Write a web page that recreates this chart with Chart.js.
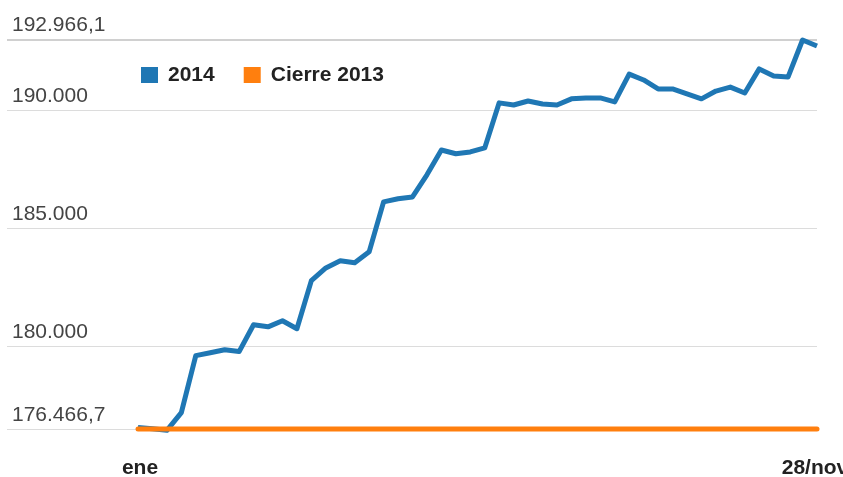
<!DOCTYPE html>
<html>
<head>
<meta charset="utf-8">
<script src="https://cdn.jsdelivr.net/npm/chart.js@4/dist/chart.umd.min.js"></script>
<style>
  html, body { margin: 0; padding: 0; background: #fff; }
  #wrap { width: 843px; height: 477px; }
</style>
</head>
<body>
<div id="wrap"><canvas id="myChart"></canvas></div>
<script>
// weekly closing dates (Fridays, 2014)
const weeks = [
  '03/ene', '10/ene', '17/ene', '24/ene', '31/ene',
  '07/feb', '14/feb', '21/feb', '28/feb',
  '07/mar', '14/mar', '21/mar', '28/mar',
  '04/abr', '11/abr', '18/abr', '25/abr',
  '02/may', '09/may', '16/may', '23/may', '30/may',
  '06/jun', '13/jun', '20/jun', '27/jun',
  '04/jul', '11/jul', '18/jul', '25/jul',
  '01/ago', '08/ago', '15/ago', '22/ago', '29/ago',
  '05/sep', '12/sep', '19/sep', '26/sep',
  '03/oct', '10/oct', '17/oct', '24/oct', '31/oct',
  '07/nov', '14/nov', '21/nov', '28/nov'
];

const serie2014 = [
  176530, 176480, 176410, 177160, 179580, 179700, 179830, 179750,
  180890, 180800, 181060, 180720, 182760, 183300, 183600, 183520,
  183980, 186100, 186230, 186310, 187250, 188300, 188140, 188220,
  188390, 190300, 190210, 190380, 190250, 190210, 190470, 190510,
  190510, 190340, 191520, 191270, 190890, 190890, 190680, 190470,
  190800, 190970, 190720, 191740, 191440, 191400, 192966.1, 192710
];

const cierre2013 = [
  176466.7, 176466.7, 176466.7, 176466.7, 176466.7, 176466.7, 176466.7, 176466.7,
  176466.7, 176466.7, 176466.7, 176466.7, 176466.7, 176466.7, 176466.7, 176466.7,
  176466.7, 176466.7, 176466.7, 176466.7, 176466.7, 176466.7, 176466.7, 176466.7,
  176466.7, 176466.7, 176466.7, 176466.7, 176466.7, 176466.7, 176466.7, 176466.7,
  176466.7, 176466.7, 176466.7, 176466.7, 176466.7, 176466.7, 176466.7, 176466.7,
  176466.7, 176466.7, 176466.7, 176466.7, 176466.7, 176466.7, 176466.7, 176466.7
];

const yTickValues = [176466.7, 180000, 185000, 190000, 192966.1];
const yTickLabels = ['176.466,7', '180.000', '185.000', '190.000', '192.966,1'];
const xTickLabels = ['ene', '28/nov'];

const FONT = '"Liberation Sans", Arial, sans-serif';

// gridlines, axis labels and legend drawn by hand (google-chart look)
const overlay = {
  id: 'overlay',
  beforeDatasetsDraw(chart) {
    const { ctx, chartArea, scales: { y } } = chart;
    ctx.save();
    yTickValues.forEach((v, i) => {
      const isTop = i === yTickValues.length - 1;
      const py = Math.round(y.getPixelForValue(v)) + (isTop ? 0 : 0.5);
      ctx.beginPath();
      ctx.strokeStyle = isTop ? '#d0d0d0' : '#dcdcdc';
      ctx.lineWidth = isTop ? 2 : 1;
      ctx.moveTo(7, py);
      ctx.lineTo(chartArea.right, py);
      ctx.stroke();

      ctx.fillStyle = '#444';
      ctx.font = '21px ' + FONT;
      ctx.textAlign = 'left';
      ctx.textBaseline = 'alphabetic';
      ctx.fillText(yTickLabels[i], 12, py - 9);
    });
    ctx.restore();
  },
  afterDraw(chart) {
    const { ctx, scales: { x } } = chart;
    ctx.save();
    ctx.font = 'bold 21px ' + FONT;
    ctx.fillStyle = '#222';
    ctx.textAlign = 'center';
    ctx.textBaseline = 'alphabetic';
    ctx.fillText(xTickLabels[0], x.getPixelForValue(0) + 2, 474);
    ctx.fillText(xTickLabels[1], x.getPixelForValue(weeks.length - 1) - 2, 474);

    // legend
    let lx = 141;
    chart.data.datasets.slice().sort((a, b) => a.legendIndex - b.legendIndex).forEach(ds => {
      ctx.fillStyle = ds.borderColor;
      ctx.fillRect(lx, 67, 17, 16);
      ctx.fillStyle = '#222';
      ctx.textAlign = 'left';
      ctx.fillText(ds.label, lx + 27, 81);
      lx += 27 + ctx.measureText(ds.label).width + 29;
    });
    ctx.restore();
  }
};

const ctx = document.getElementById('myChart').getContext('2d');
new Chart(ctx, {
  type: 'line',
  data: {
    labels: weeks,
    datasets: [
      {
        label: '2014',
        data: serie2014,
        borderColor: '#1f77b4',
        borderWidth: 5,
        pointRadius: 0,
        tension: 0,
        order: 1,
        legendIndex: 0,
        clip: false
      },
      {
        label: 'Cierre 2013',
        data: cierre2013,
        borderColor: '#ff7f0e',
        borderWidth: 5,
        pointRadius: 0,
        tension: 0,
        order: 0,
        legendIndex: 1,
        borderCapStyle: 'round',
        clip: false
      }
    ]
  },
  options: {
    responsive: true,
    maintainAspectRatio: false,
    animation: false,
    borderJoinStyle: 'round',
    layout: { padding: { left: 138, right: 26, top: 40, bottom: 48 } },
    plugins: { legend: { display: false }, tooltip: { enabled: false } },
    scales: {
      x: { display: false },
      y: { display: false, min: 176466.7, max: 192966.1 }
    }
  },
  plugins: [overlay]
});
</script>
</body>
</html>
